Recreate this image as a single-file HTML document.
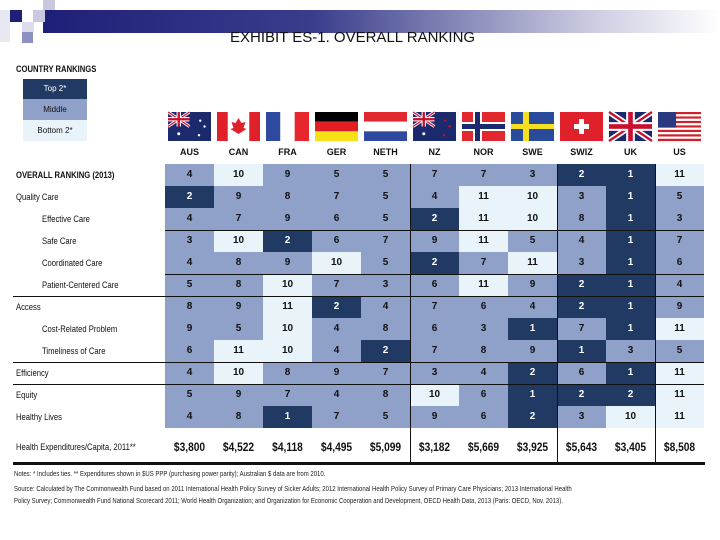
<!DOCTYPE html>
<html><head><meta charset="utf-8"><style>
body{margin:0;width:720px;height:540px;background:#fff;overflow:hidden;font-family:"Liberation Sans",sans-serif}
#c{position:relative;width:720px;height:540px}
.a{position:absolute}
.lbl{position:absolute;font-size:9px;color:#111;line-height:22px;transform:scaleX(.85);transform-origin:left}
.cell{position:absolute;width:49px;height:22px;line-height:22px;text-align:center;font-size:10px;font-weight:bold}
.hdr{position:absolute;width:49px;text-align:center;font-size:9px;font-weight:bold;color:#111}
.exp{position:absolute;width:49px;text-align:center;font-size:12px;font-weight:bold;color:#111;transform:scaleX(.85)}
.note{position:absolute;left:14px;font-size:7.5px;color:#222;transform:scaleX(.8);transform-origin:left;white-space:nowrap}
</style></head><body><div id="c">
<div class="a" style="left:43px;top:10px;width:677px;height:23px;background:linear-gradient(90deg,#1e1f78,#3a3d8c 40%,#c8c9df 80%,#fff)"></div>
<div class="a" style="left:10px;top:10px;width:12px;height:12px;background:#1e1f78"></div>
<div class="a" style="left:43px;top:0;width:12px;height:10px;background:#c8c9df"></div>
<div class="a" style="left:33px;top:10px;width:12px;height:12px;background:#c8c9e0"></div>
<div class="a" style="left:22px;top:22px;width:12px;height:10px;background:#dcdcec"></div>
<div class="a" style="left:22px;top:32px;width:11px;height:11px;background:#8e90c0"></div>
<div class="a" style="left:0;top:10px;width:10px;height:32px;background:#e8e8f3"></div>
<div class="a" style="left:230px;top:29px;font-size:15px;color:#111;white-space:nowrap">EXHIBIT ES-1. OVERALL RANKING</div>
<div class="a" style="left:16px;top:64px;font-size:9px;font-weight:bold;color:#111;transform:scaleX(.85);transform-origin:left">COUNTRY RANKINGS</div>
<div class="a" style="left:23px;top:79px;width:64px;height:20px;background:#203a63;color:#fff;font-size:8px;text-align:center;line-height:20px">Top 2*</div>
<div class="a" style="left:23px;top:99px;width:64px;height:21px;background:#8fa1c8;color:#111;font-size:8px;text-align:center;line-height:21px">Middle</div>
<div class="a" style="left:23px;top:120px;width:64px;height:21px;background:#e8f4fa;color:#111;font-size:8px;text-align:center;line-height:21px">Bottom 2*</div>
<svg class="a" id="flags" style="left:0;top:0" width="720" height="540"></svg>
<div id="grid"></div>
<div class="note" style="top:469px">Notes: * Includes ties. ** Expenditures shown in $US PPP (purchasing power parity); Australian $ data are from 2010.</div>
<div class="note" style="top:484px">Source: Calculated by The Commonwealth Fund based on 2011 International Health Policy Survey of Sicker Adults; 2012 International Health Policy Survey of Primary Care Physicians; 2013 International Health</div>
<div class="note" style="top:496px">Policy Survey; Commonwealth Fund National Scorecard 2011; World Health Organization; and Organization for Economic Cooperation and Development, OECD Health Data, 2013 (Paris: OECD, Nov. 2013).</div>
</div>
<script>
const countries=["AUS","CAN","FRA","GER","NETH","NZ","NOR","SWE","SWIZ","UK","US"];
const rowLabels=["OVERALL RANKING (2013)","Quality Care","Effective Care","Safe Care","Coordinated Care","Patient-Centered Care","Access","Cost-Related Problem","Timeliness of Care","Efficiency","Equity","Healthy Lives"];
const rowIndent=[0,0,1,1,1,1,0,1,1,0,0,0];
const overall=[4,10,9,5,5,7,7,3,2,1,11];
const quality=[2,9,8,7,5,4,11,10,3,1,5];
const effective=[4,7,9,6,5,2,11,10,8,1,3];
const safe=[3,10,2,6,7,9,11,5,4,1,7];
const coordinated=[4,8,9,10,5,2,7,11,3,1,6];
const patient=[5,8,10,7,3,6,11,9,2,1,4];
const access=[8,9,11,2,4,7,6,4,2,1,9];
const cost=[9,5,10,4,8,6,3,1,7,1,11];
const timeliness=[6,11,10,4,2,7,8,9,1,3,5];
const efficiency=[4,10,8,9,7,3,4,2,6,1,11];
const equity=[5,9,7,4,8,10,6,1,2,2,11];
const healthy=[4,8,1,7,5,9,6,2,3,10,11];
const expenditures=["$3,800","$4,522","$4,118","$4,495","$5,099","$3,182","$5,669","$3,925","$5,643","$3,405","$8,508"];
const rows=[overall,quality,effective,safe,coordinated,patient,access,cost,timeliness,efficiency,equity,healthy];
const X0=165,CW=49,Y0=164,RH=22;
const xs=i=>X0+i*CW, ys=r=>Y0+r*RH;
const g=document.getElementById('grid');
function color(v){return v<=2?["#203a63","#fff"]:v>=10?["#e8f4fa","#111"]:["#8fa1c8","#111"];}
rowLabels.forEach((t,r)=>{
 const d=document.createElement('div');d.className='lbl';d.textContent=t;
 
 
 d.style.left=(rowIndent[r]?42:16)+'px';d.style.top=ys(r)+'px';
 if(r==0)d.style.fontWeight='bold';g.appendChild(d);
 rows[r].forEach((v,i)=>{
  const c=document.createElement('div');c.className='cell';c.textContent=v;
  
  
  const [bg,fg]=color(v);c.style.background=bg;c.style.color=fg;
  c.style.left=xs(i)+'px';c.style.top=ys(r)+'px';g.appendChild(c);
 });
});
const el=document.createElement('div');el.className='lbl';el.textContent='Health Expenditures/Capita, 2011**';


el.style.left='16px';el.style.top='436px';g.appendChild(el);
countries.forEach((c,i)=>{
 const h=document.createElement('div');h.className='hdr';h.textContent=c;
 
 
 h.style.left=xs(i)+'px';h.style.top='147px';g.appendChild(h);
 const e=document.createElement('div');e.className='exp';e.textContent=expenditures[i];
 
 
 e.style.left=xs(i)+'px';e.style.top='440px';g.appendChild(e);
});
function line(x,y,w,h,bg,name){const l=document.createElement('div');l.className='a';
 
 
 l.style.cssText+=`left:${x}px;top:${y}px;width:${w}px;height:${h}px;background:${bg}`;g.appendChild(l);}
[[3,X0],[5,X0],[6,13],[9,13],[10,13]].forEach(([r,x])=>line(x,ys(r)-0.5,704-x,1,'#111','row-separator'));
[5,8,10].forEach(i=>line(xs(i)-0.5,Y0,1,299,'#111','column-separator'));
line(13,462,692,3,'#111','bottom-rule');
// flags
const svg=document.getElementById('flags');let s='';
const fl=(i)=>xs(i)+3, fy=112, fw=43, fh=29;
function rect(x,y,w,h,f){return `<rect x="${x}" y="${y}" width="${w}" height="${h}" fill="${f}"/>`;}
function ukCanton(x,y,w,h){return rect(x,y,w,h,'#1a2a6c')+`<path d="M${x} ${y}L${x+w} ${y+h}M${x+w} ${y}L${x} ${y+h}" stroke="#fff" stroke-width="${h*0.2}"/><path d="M${x} ${y}L${x+w} ${y+h}M${x+w} ${y}L${x} ${y+h}" stroke="#c8102e" stroke-width="${h*0.08}"/>`+rect(x+w/2-h*0.15,y,h*0.3,h,'#fff')+rect(x,y+h*0.35,w,h*0.3,'#fff')+rect(x+w/2-h*0.08,y,h*0.16,h,'#c8102e')+rect(x,y+h*0.42,w,h*0.16,'#c8102e');}
countries.forEach((c,i)=>{const x=fl(i),y=fy,w=fw,h=fh;
 if(c=='AUS'||c=='NZ'){s+=rect(x,y,w,h,'#1a2a6c')+ukCanton(x,y,w/2,h/2);
  s+=`<circle cx="${x+w*0.75}" cy="${y+h*0.3}" r="1.2" fill="${c=='NZ'?'#c8102e':'#fff'}"/><circle cx="${x+w*0.85}" cy="${y+h*0.5}" r="1.2" fill="${c=='NZ'?'#c8102e':'#fff'}"/><circle cx="${x+w*0.72}" cy="${y+h*0.8}" r="1.2" fill="${c=='NZ'?'#c8102e':'#fff'}"/><circle cx="${x+w*0.25}" cy="${y+h*0.75}" r="1.5" fill="#fff"/>`;}
 else if(c=='CAN')s+=rect(x,y,w,h,'#fff')+rect(x,y,w*0.25,h,'#e0202a')+rect(x+w*0.75,y,w*0.25,h,'#e0202a')+`<path d="M${x+w/2} ${y+6}l3 5 4-1-2 6 3 1-8 5-8-5 3-1-2-6 4 1z" fill="#e0202a"/>`;
 else if(c=='FRA')s+=rect(x,y,w/3,h,'#2d4aa0')+rect(x+w/3,y,w/3,h,'#fff')+rect(x+2*w/3,y,w/3,h,'#e8262e');
 else if(c=='GER')s+=rect(x,y,w,h/3,'#000')+rect(x,y+h/3,w,h/3,'#e01e24')+rect(x,y+2*h/3,w,h/3,'#f6e018');
 else if(c=='NETH')s+=rect(x,y,w,h/3,'#e0282e')+rect(x,y+h/3,w,h/3,'#fff')+rect(x,y+2*h/3,w,h/3,'#2d4aa0');
 else if(c=='NOR')s+=rect(x,y,w,h,'#e0282e')+rect(x+11,y,9,h,'#fff')+rect(x,y+10,w,9,'#fff')+rect(x+13,y,5,h,'#1a2a6c')+rect(x,y+12,w,5,'#1a2a6c');
 else if(c=='SWE')s+=rect(x,y,w,h,'#2a4a9c')+rect(x+12,y,6,h,'#f4e020')+rect(x,y+12,w,5,'#f4e020');
 else if(c=='SWIZ')s+=rect(x,y,w,h,'#e0202a')+rect(x+w/2-2.5,y+7,5,15,'#fff')+rect(x+w/2-7.5,y+12,15,5,'#fff');
 else if(c=='UK')s+=ukCanton(x,y,w,h);
 else if(c=='US'){for(let k=0;k<13;k++)s+=rect(x,y+k*h/13,w,h/13+0.1,k%2?'#fff':'#d0202a');s+=rect(x,y,w*0.42,h*7/13,'#2a3a80');}
});
svg.innerHTML=s;
</script></body></html>
